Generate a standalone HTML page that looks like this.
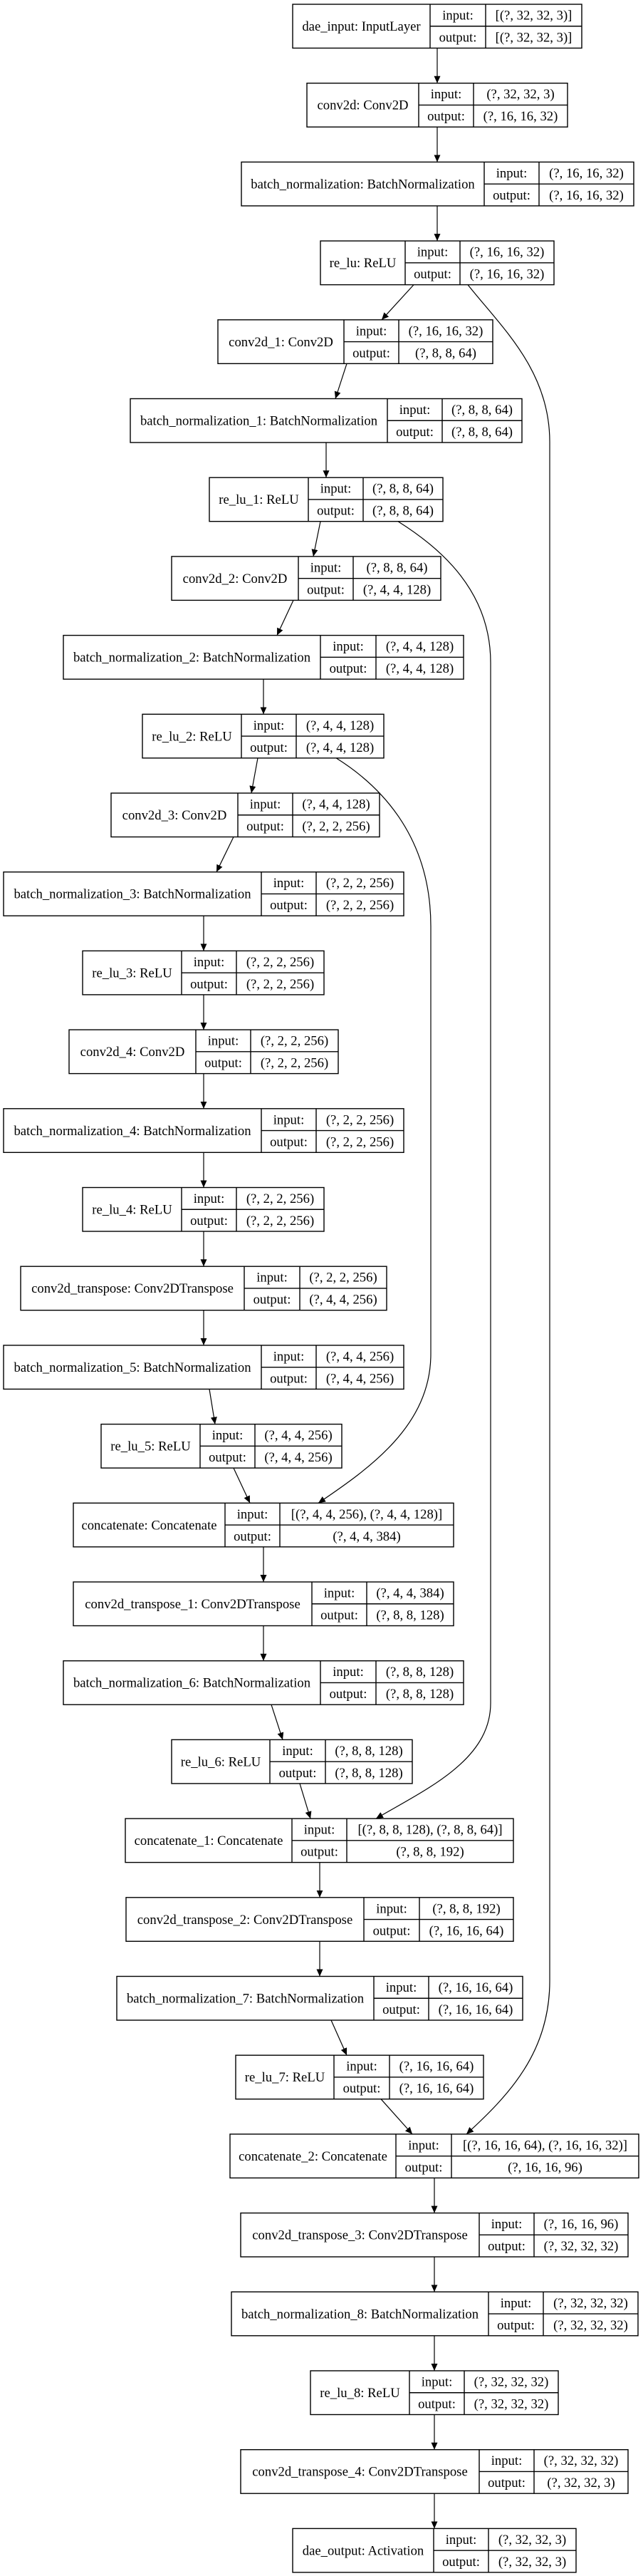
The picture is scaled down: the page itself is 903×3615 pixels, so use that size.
<!DOCTYPE html>
<html><head><meta charset="utf-8"><style>
html,body{margin:0;padding:0;background:#fff;}
svg{display:block;}
text{font-family:"Liberation Serif",serif;font-size:18.67px;text-anchor:middle;fill:#000;}
rect{fill:#fff;stroke:#000;stroke-width:1.4;}
line.d{stroke:#000;stroke-width:1.4;}
.e{stroke:#000;stroke-width:1.2;fill:none;}
</style></head><body>
<svg width="903" height="3615" viewBox="0 0 903 3615" xmlns="http://www.w3.org/2000/svg">
<defs><marker id="a" viewBox="0 0 10 10" refX="10" refY="5" markerWidth="10" markerHeight="10" markerUnits="userSpaceOnUse" orient="auto"><path d="M0,0.5 L10,5 L0,9.5 z" fill="#000"/></marker></defs>

<!-- main chain edges -->
<g class="e" marker-end="url(#a)">
<line class="e" x1="614" y1="67.5" x2="614" y2="116.7" marker-end="url(#a)"/>
<line class="e" x1="614" y1="178.2" x2="614" y2="227.4" marker-end="url(#a)"/>
<line class="e" x1="614" y1="288.9" x2="614" y2="338.1" marker-end="url(#a)"/>
<line class="e" x1="581" y1="399.6" x2="536" y2="448.8" marker-end="url(#a)"/>
<line class="e" x1="487" y1="510.3" x2="471" y2="559.5" marker-end="url(#a)"/>
<line class="e" x1="458" y1="621" x2="458" y2="670.2" marker-end="url(#a)"/>
<line class="e" x1="450" y1="731.7" x2="440" y2="780.9" marker-end="url(#a)"/>
<line class="e" x1="412" y1="842.4" x2="389" y2="891.6" marker-end="url(#a)"/>
<line class="e" x1="370" y1="953.1" x2="370" y2="1002.3" marker-end="url(#a)"/>
<line class="e" x1="362" y1="1063.8" x2="353" y2="1113" marker-end="url(#a)"/>
<line class="e" x1="328" y1="1174.5" x2="304" y2="1223.7" marker-end="url(#a)"/>
<line class="e" x1="286" y1="1285.2" x2="286" y2="1334.4" marker-end="url(#a)"/>
<line class="e" x1="286" y1="1395.9" x2="286" y2="1445.1" marker-end="url(#a)"/>
<line class="e" x1="286" y1="1506.6" x2="286" y2="1555.8" marker-end="url(#a)"/>
<line class="e" x1="286" y1="1617.3" x2="286" y2="1666.5" marker-end="url(#a)"/>
<line class="e" x1="286" y1="1728" x2="286" y2="1777.2" marker-end="url(#a)"/>
<line class="e" x1="286" y1="1838.7" x2="286" y2="1887.9" marker-end="url(#a)"/>
<line class="e" x1="294" y1="1949.4" x2="302" y2="1998.6" marker-end="url(#a)"/>
<line class="e" x1="328" y1="2060.1" x2="351" y2="2109.3" marker-end="url(#a)"/>
<line class="e" x1="370" y1="2170.8" x2="370" y2="2220" marker-end="url(#a)"/>
<line class="e" x1="370" y1="2281.5" x2="370" y2="2330.7" marker-end="url(#a)"/>
<line class="e" x1="381" y1="2392.2" x2="397" y2="2441.4" marker-end="url(#a)"/>
<line class="e" x1="421" y1="2502.9" x2="436" y2="2552.1" marker-end="url(#a)"/>
<line class="e" x1="449" y1="2613.6" x2="449" y2="2662.8" marker-end="url(#a)"/>
<line class="e" x1="449" y1="2724.3" x2="449" y2="2773.5" marker-end="url(#a)"/>
<line class="e" x1="465" y1="2835" x2="487" y2="2884.2" marker-end="url(#a)"/>
<line class="e" x1="535" y1="2945.7" x2="579" y2="2994.9" marker-end="url(#a)"/>
<line class="e" x1="610" y1="3056.4" x2="610" y2="3105.6" marker-end="url(#a)"/>
<line class="e" x1="610" y1="3167.1" x2="610" y2="3216.3" marker-end="url(#a)"/>
<line class="e" x1="610" y1="3277.8" x2="610" y2="3327" marker-end="url(#a)"/>
<line class="e" x1="610" y1="3388.5" x2="610" y2="3437.7" marker-end="url(#a)"/>
<line class="e" x1="610" y1="3499.2" x2="610" y2="3548.4" marker-end="url(#a)"/>
</g>
<!-- skip connections -->
<path class="e" d="M657,399.6 C705,460 772,520 772,620 L772,2780 C772,2880 715,2940 655,2994.9" marker-end="url(#a)"/>
<path class="e" d="M559,731.7 C620,770 689,830 689,930 L689,2390 C689,2470 600,2510 528,2552.1" marker-end="url(#a)"/>
<path class="e" d="M472,1063.8 C530,1100 605,1170 605,1300 L605,1900 C605,2000 520,2060 447,2109.3" marker-end="url(#a)"/>

<!-- nodes -->
<g transform="translate(0,6)"><rect x="411" y="0" width="406" height="61.5"/><line class="d" x1="604" y1="0" x2="604" y2="61.5"/><line class="d" x1="682" y1="0" x2="682" y2="61.5"/><line class="d" x1="604" y1="30.75" x2="817" y2="30.75"/><text x="507.5" y="37">dae_input: InputLayer</text><text x="643" y="21.5">input:</text><text x="749.5" y="21.5">[(?, 32, 32, 3)]</text><text x="643" y="52.5">output:</text><text x="749.5" y="52.5">[(?, 32, 32, 3)]</text></g>
<g transform="translate(0,116.7)"><rect x="431" y="0" width="366" height="61.5"/><line class="d" x1="588" y1="0" x2="588" y2="61.5"/><line class="d" x1="665" y1="0" x2="665" y2="61.5"/><line class="d" x1="588" y1="30.75" x2="797" y2="30.75"/><text x="509.5" y="37">conv2d: Conv2D</text><text x="626.5" y="21.5">input:</text><text x="731" y="21.5">(?, 32, 32, 3)</text><text x="626.5" y="52.5">output:</text><text x="731" y="52.5">(?, 16, 16, 32)</text></g>
<g transform="translate(0,227.4)"><rect x="339" y="0" width="551" height="61.5"/><line class="d" x1="680" y1="0" x2="680" y2="61.5"/><line class="d" x1="757" y1="0" x2="757" y2="61.5"/><line class="d" x1="680" y1="30.75" x2="890" y2="30.75"/><text x="509.5" y="37">batch_normalization: BatchNormalization</text><text x="718.5" y="21.5">input:</text><text x="823.5" y="21.5">(?, 16, 16, 32)</text><text x="718.5" y="52.5">output:</text><text x="823.5" y="52.5">(?, 16, 16, 32)</text></g>
<g transform="translate(0,338.1)"><rect x="450" y="0" width="328" height="61.5"/><line class="d" x1="569" y1="0" x2="569" y2="61.5"/><line class="d" x1="646" y1="0" x2="646" y2="61.5"/><line class="d" x1="569" y1="30.75" x2="778" y2="30.75"/><text x="509.5" y="37">re_lu: ReLU</text><text x="607.5" y="21.5">input:</text><text x="712" y="21.5">(?, 16, 16, 32)</text><text x="607.5" y="52.5">output:</text><text x="712" y="52.5">(?, 16, 16, 32)</text></g>
<g transform="translate(0,448.8)"><rect x="306" y="0" width="386" height="61.5"/><line class="d" x1="483" y1="0" x2="483" y2="61.5"/><line class="d" x1="560" y1="0" x2="560" y2="61.5"/><line class="d" x1="483" y1="30.75" x2="692" y2="30.75"/><text x="394.5" y="37">conv2d_1: Conv2D</text><text x="521.5" y="21.5">input:</text><text x="626" y="21.5">(?, 16, 16, 32)</text><text x="521.5" y="52.5">output:</text><text x="626" y="52.5">(?, 8, 8, 64)</text></g>
<g transform="translate(0,559.5)"><rect x="183" y="0" width="550" height="61.5"/><line class="d" x1="544" y1="0" x2="544" y2="61.5"/><line class="d" x1="621" y1="0" x2="621" y2="61.5"/><line class="d" x1="544" y1="30.75" x2="733" y2="30.75"/><text x="363.5" y="37">batch_normalization_1: BatchNormalization</text><text x="582.5" y="21.5">input:</text><text x="677" y="21.5">(?, 8, 8, 64)</text><text x="582.5" y="52.5">output:</text><text x="677" y="52.5">(?, 8, 8, 64)</text></g>
<g transform="translate(0,670.2)"><rect x="294" y="0" width="328" height="61.5"/><line class="d" x1="433" y1="0" x2="433" y2="61.5"/><line class="d" x1="510" y1="0" x2="510" y2="61.5"/><line class="d" x1="433" y1="30.75" x2="622" y2="30.75"/><text x="363.5" y="37">re_lu_1: ReLU</text><text x="471.5" y="21.5">input:</text><text x="566" y="21.5">(?, 8, 8, 64)</text><text x="471.5" y="52.5">output:</text><text x="566" y="52.5">(?, 8, 8, 64)</text></g>
<g transform="translate(0,780.9)"><rect x="241" y="0" width="378" height="61.5"/><line class="d" x1="419" y1="0" x2="419" y2="61.5"/><line class="d" x1="496" y1="0" x2="496" y2="61.5"/><line class="d" x1="419" y1="30.75" x2="619" y2="30.75"/><text x="330" y="37">conv2d_2: Conv2D</text><text x="457.5" y="21.5">input:</text><text x="557.5" y="21.5">(?, 8, 8, 64)</text><text x="457.5" y="52.5">output:</text><text x="557.5" y="52.5">(?, 4, 4, 128)</text></g>
<g transform="translate(0,891.6)"><rect x="89" y="0" width="562" height="61.5"/><line class="d" x1="450" y1="0" x2="450" y2="61.5"/><line class="d" x1="528" y1="0" x2="528" y2="61.5"/><line class="d" x1="450" y1="30.75" x2="651" y2="30.75"/><text x="269.5" y="37">batch_normalization_2: BatchNormalization</text><text x="489" y="21.5">input:</text><text x="589.5" y="21.5">(?, 4, 4, 128)</text><text x="489" y="52.5">output:</text><text x="589.5" y="52.5">(?, 4, 4, 128)</text></g>
<g transform="translate(0,1002.3)"><rect x="200" y="0" width="339" height="61.5"/><line class="d" x1="339" y1="0" x2="339" y2="61.5"/><line class="d" x1="416" y1="0" x2="416" y2="61.5"/><line class="d" x1="339" y1="30.75" x2="539" y2="30.75"/><text x="269.5" y="37">re_lu_2: ReLU</text><text x="377.5" y="21.5">input:</text><text x="477.5" y="21.5">(?, 4, 4, 128)</text><text x="377.5" y="52.5">output:</text><text x="477.5" y="52.5">(?, 4, 4, 128)</text></g>
<g transform="translate(0,1113)"><rect x="156" y="0" width="377" height="61.5"/><line class="d" x1="334" y1="0" x2="334" y2="61.5"/><line class="d" x1="411" y1="0" x2="411" y2="61.5"/><line class="d" x1="334" y1="30.75" x2="533" y2="30.75"/><text x="245" y="37">conv2d_3: Conv2D</text><text x="372.5" y="21.5">input:</text><text x="472" y="21.5">(?, 4, 4, 128)</text><text x="372.5" y="52.5">output:</text><text x="472" y="52.5">(?, 2, 2, 256)</text></g>
<g transform="translate(0,1223.7)"><rect x="5" y="0" width="562" height="61.5"/><line class="d" x1="367" y1="0" x2="367" y2="61.5"/><line class="d" x1="444" y1="0" x2="444" y2="61.5"/><line class="d" x1="367" y1="30.75" x2="567" y2="30.75"/><text x="186" y="37">batch_normalization_3: BatchNormalization</text><text x="405.5" y="21.5">input:</text><text x="505.5" y="21.5">(?, 2, 2, 256)</text><text x="405.5" y="52.5">output:</text><text x="505.5" y="52.5">(?, 2, 2, 256)</text></g>
<g transform="translate(0,1334.4)"><rect x="116" y="0" width="339" height="61.5"/><line class="d" x1="255" y1="0" x2="255" y2="61.5"/><line class="d" x1="332" y1="0" x2="332" y2="61.5"/><line class="d" x1="255" y1="30.75" x2="455" y2="30.75"/><text x="185.5" y="37">re_lu_3: ReLU</text><text x="293.5" y="21.5">input:</text><text x="393.5" y="21.5">(?, 2, 2, 256)</text><text x="293.5" y="52.5">output:</text><text x="393.5" y="52.5">(?, 2, 2, 256)</text></g>
<g transform="translate(0,1445.1)"><rect x="97" y="0" width="378" height="61.5"/><line class="d" x1="275" y1="0" x2="275" y2="61.5"/><line class="d" x1="352" y1="0" x2="352" y2="61.5"/><line class="d" x1="275" y1="30.75" x2="475" y2="30.75"/><text x="186" y="37">conv2d_4: Conv2D</text><text x="313.5" y="21.5">input:</text><text x="413.5" y="21.5">(?, 2, 2, 256)</text><text x="313.5" y="52.5">output:</text><text x="413.5" y="52.5">(?, 2, 2, 256)</text></g>
<g transform="translate(0,1555.8)"><rect x="5" y="0" width="562" height="61.5"/><line class="d" x1="367" y1="0" x2="367" y2="61.5"/><line class="d" x1="444" y1="0" x2="444" y2="61.5"/><line class="d" x1="367" y1="30.75" x2="567" y2="30.75"/><text x="186" y="37">batch_normalization_4: BatchNormalization</text><text x="405.5" y="21.5">input:</text><text x="505.5" y="21.5">(?, 2, 2, 256)</text><text x="405.5" y="52.5">output:</text><text x="505.5" y="52.5">(?, 2, 2, 256)</text></g>
<g transform="translate(0,1666.5)"><rect x="116" y="0" width="339" height="61.5"/><line class="d" x1="255" y1="0" x2="255" y2="61.5"/><line class="d" x1="332" y1="0" x2="332" y2="61.5"/><line class="d" x1="255" y1="30.75" x2="455" y2="30.75"/><text x="185.5" y="37">re_lu_4: ReLU</text><text x="293.5" y="21.5">input:</text><text x="393.5" y="21.5">(?, 2, 2, 256)</text><text x="293.5" y="52.5">output:</text><text x="393.5" y="52.5">(?, 2, 2, 256)</text></g>
<g transform="translate(0,1777.2)"><rect x="29" y="0" width="514" height="61.5"/><line class="d" x1="343" y1="0" x2="343" y2="61.5"/><line class="d" x1="421" y1="0" x2="421" y2="61.5"/><line class="d" x1="343" y1="30.75" x2="543" y2="30.75"/><text x="186" y="37">conv2d_transpose: Conv2DTranspose</text><text x="382" y="21.5">input:</text><text x="482" y="21.5">(?, 2, 2, 256)</text><text x="382" y="52.5">output:</text><text x="482" y="52.5">(?, 4, 4, 256)</text></g>
<g transform="translate(0,1887.9)"><rect x="5" y="0" width="562" height="61.5"/><line class="d" x1="367" y1="0" x2="367" y2="61.5"/><line class="d" x1="444" y1="0" x2="444" y2="61.5"/><line class="d" x1="367" y1="30.75" x2="567" y2="30.75"/><text x="186" y="37">batch_normalization_5: BatchNormalization</text><text x="405.5" y="21.5">input:</text><text x="505.5" y="21.5">(?, 4, 4, 256)</text><text x="405.5" y="52.5">output:</text><text x="505.5" y="52.5">(?, 4, 4, 256)</text></g>
<g transform="translate(0,1998.6)"><rect x="142" y="0" width="338" height="61.5"/><line class="d" x1="281" y1="0" x2="281" y2="61.5"/><line class="d" x1="358" y1="0" x2="358" y2="61.5"/><line class="d" x1="281" y1="30.75" x2="480" y2="30.75"/><text x="211.5" y="37">re_lu_5: ReLU</text><text x="319.5" y="21.5">input:</text><text x="419" y="21.5">(?, 4, 4, 256)</text><text x="319.5" y="52.5">output:</text><text x="419" y="52.5">(?, 4, 4, 256)</text></g>
<g transform="translate(0,2109.3)"><rect x="103" y="0" width="534" height="61.5"/><line class="d" x1="316" y1="0" x2="316" y2="61.5"/><line class="d" x1="393" y1="0" x2="393" y2="61.5"/><line class="d" x1="316" y1="30.75" x2="637" y2="30.75"/><text x="209.5" y="37">concatenate: Concatenate</text><text x="354.5" y="21.5">input:</text><text x="515" y="21.5">[(?, 4, 4, 256), (?, 4, 4, 128)]</text><text x="354.5" y="52.5">output:</text><text x="515" y="52.5">(?, 4, 4, 384)</text></g>
<g transform="translate(0,2220)"><rect x="103" y="0" width="534" height="61.5"/><line class="d" x1="438" y1="0" x2="438" y2="61.5"/><line class="d" x1="515" y1="0" x2="515" y2="61.5"/><line class="d" x1="438" y1="30.75" x2="637" y2="30.75"/><text x="270.5" y="37">conv2d_transpose_1: Conv2DTranspose</text><text x="476.5" y="21.5">input:</text><text x="576" y="21.5">(?, 4, 4, 384)</text><text x="476.5" y="52.5">output:</text><text x="576" y="52.5">(?, 8, 8, 128)</text></g>
<g transform="translate(0,2330.7)"><rect x="89" y="0" width="562" height="61.5"/><line class="d" x1="450" y1="0" x2="450" y2="61.5"/><line class="d" x1="528" y1="0" x2="528" y2="61.5"/><line class="d" x1="450" y1="30.75" x2="651" y2="30.75"/><text x="269.5" y="37">batch_normalization_6: BatchNormalization</text><text x="489" y="21.5">input:</text><text x="589.5" y="21.5">(?, 8, 8, 128)</text><text x="489" y="52.5">output:</text><text x="589.5" y="52.5">(?, 8, 8, 128)</text></g>
<g transform="translate(0,2441.4)"><rect x="241" y="0" width="338" height="61.5"/><line class="d" x1="379" y1="0" x2="379" y2="61.5"/><line class="d" x1="457" y1="0" x2="457" y2="61.5"/><line class="d" x1="379" y1="30.75" x2="579" y2="30.75"/><text x="310" y="37">re_lu_6: ReLU</text><text x="418" y="21.5">input:</text><text x="518" y="21.5">(?, 8, 8, 128)</text><text x="418" y="52.5">output:</text><text x="518" y="52.5">(?, 8, 8, 128)</text></g>
<g transform="translate(0,2552.1)"><rect x="176" y="0" width="545" height="61.5"/><line class="d" x1="410" y1="0" x2="410" y2="61.5"/><line class="d" x1="487" y1="0" x2="487" y2="61.5"/><line class="d" x1="410" y1="30.75" x2="721" y2="30.75"/><text x="293" y="37">concatenate_1: Concatenate</text><text x="448.5" y="21.5">input:</text><text x="604" y="21.5">[(?, 8, 8, 128), (?, 8, 8, 64)]</text><text x="448.5" y="52.5">output:</text><text x="604" y="52.5">(?, 8, 8, 192)</text></g>
<g transform="translate(0,2662.8)"><rect x="177" y="0" width="544" height="61.5"/><line class="d" x1="511" y1="0" x2="511" y2="61.5"/><line class="d" x1="589" y1="0" x2="589" y2="61.5"/><line class="d" x1="511" y1="30.75" x2="721" y2="30.75"/><text x="344" y="37">conv2d_transpose_2: Conv2DTranspose</text><text x="550" y="21.5">input:</text><text x="655" y="21.5">(?, 8, 8, 192)</text><text x="550" y="52.5">output:</text><text x="655" y="52.5">(?, 16, 16, 64)</text></g>
<g transform="translate(0,2773.5)"><rect x="164" y="0" width="570" height="61.5"/><line class="d" x1="525" y1="0" x2="525" y2="61.5"/><line class="d" x1="602" y1="0" x2="602" y2="61.5"/><line class="d" x1="525" y1="30.75" x2="734" y2="30.75"/><text x="344.5" y="37">batch_normalization_7: BatchNormalization</text><text x="563.5" y="21.5">input:</text><text x="668" y="21.5">(?, 16, 16, 64)</text><text x="563.5" y="52.5">output:</text><text x="668" y="52.5">(?, 16, 16, 64)</text></g>
<g transform="translate(0,2884.2)"><rect x="331" y="0" width="348" height="61.5"/><line class="d" x1="469" y1="0" x2="469" y2="61.5"/><line class="d" x1="547" y1="0" x2="547" y2="61.5"/><line class="d" x1="469" y1="30.75" x2="679" y2="30.75"/><text x="400" y="37">re_lu_7: ReLU</text><text x="508" y="21.5">input:</text><text x="613" y="21.5">(?, 16, 16, 64)</text><text x="508" y="52.5">output:</text><text x="613" y="52.5">(?, 16, 16, 64)</text></g>
<g transform="translate(0,2994.9)"><rect x="323" y="0" width="574" height="61.5"/><line class="d" x1="556" y1="0" x2="556" y2="61.5"/><line class="d" x1="634" y1="0" x2="634" y2="61.5"/><line class="d" x1="556" y1="30.75" x2="897" y2="30.75"/><text x="439.5" y="37">concatenate_2: Concatenate</text><text x="595" y="21.5">input:</text><text x="765.5" y="21.5">[(?, 16, 16, 64), (?, 16, 16, 32)]</text><text x="595" y="52.5">output:</text><text x="765.5" y="52.5">(?, 16, 16, 96)</text></g>
<g transform="translate(0,3105.6)"><rect x="338" y="0" width="544" height="61.5"/><line class="d" x1="673" y1="0" x2="673" y2="61.5"/><line class="d" x1="750" y1="0" x2="750" y2="61.5"/><line class="d" x1="673" y1="30.75" x2="882" y2="30.75"/><text x="505.5" y="37">conv2d_transpose_3: Conv2DTranspose</text><text x="711.5" y="21.5">input:</text><text x="816" y="21.5">(?, 16, 16, 96)</text><text x="711.5" y="52.5">output:</text><text x="816" y="52.5">(?, 32, 32, 32)</text></g>
<g transform="translate(0,3216.3)"><rect x="325" y="0" width="571" height="61.5"/><line class="d" x1="686" y1="0" x2="686" y2="61.5"/><line class="d" x1="763" y1="0" x2="763" y2="61.5"/><line class="d" x1="686" y1="30.75" x2="896" y2="30.75"/><text x="505.5" y="37">batch_normalization_8: BatchNormalization</text><text x="724.5" y="21.5">input:</text><text x="829.5" y="21.5">(?, 32, 32, 32)</text><text x="724.5" y="52.5">output:</text><text x="829.5" y="52.5">(?, 32, 32, 32)</text></g>
<g transform="translate(0,3327)"><rect x="436" y="0" width="348" height="61.5"/><line class="d" x1="575" y1="0" x2="575" y2="61.5"/><line class="d" x1="652" y1="0" x2="652" y2="61.5"/><line class="d" x1="575" y1="30.75" x2="784" y2="30.75"/><text x="505.5" y="37">re_lu_8: ReLU</text><text x="613.5" y="21.5">input:</text><text x="718" y="21.5">(?, 32, 32, 32)</text><text x="613.5" y="52.5">output:</text><text x="718" y="52.5">(?, 32, 32, 32)</text></g>
<g transform="translate(0,3437.7)"><rect x="338" y="0" width="544" height="61.5"/><line class="d" x1="673" y1="0" x2="673" y2="61.5"/><line class="d" x1="750" y1="0" x2="750" y2="61.5"/><line class="d" x1="673" y1="30.75" x2="882" y2="30.75"/><text x="505.5" y="37">conv2d_transpose_4: Conv2DTranspose</text><text x="711.5" y="21.5">input:</text><text x="816" y="21.5">(?, 32, 32, 32)</text><text x="711.5" y="52.5">output:</text><text x="816" y="52.5">(?, 32, 32, 3)</text></g>
<g transform="translate(0,3548.4)"><rect x="411" y="0" width="398" height="61.5"/><line class="d" x1="609" y1="0" x2="609" y2="61.5"/><line class="d" x1="686" y1="0" x2="686" y2="61.5"/><line class="d" x1="609" y1="30.75" x2="809" y2="30.75"/><text x="510" y="37">dae_output: Activation</text><text x="647.5" y="21.5">input:</text><text x="747.5" y="21.5">(?, 32, 32, 3)</text><text x="647.5" y="52.5">output:</text><text x="747.5" y="52.5">(?, 32, 32, 3)</text></g>
</svg>
</body></html>
